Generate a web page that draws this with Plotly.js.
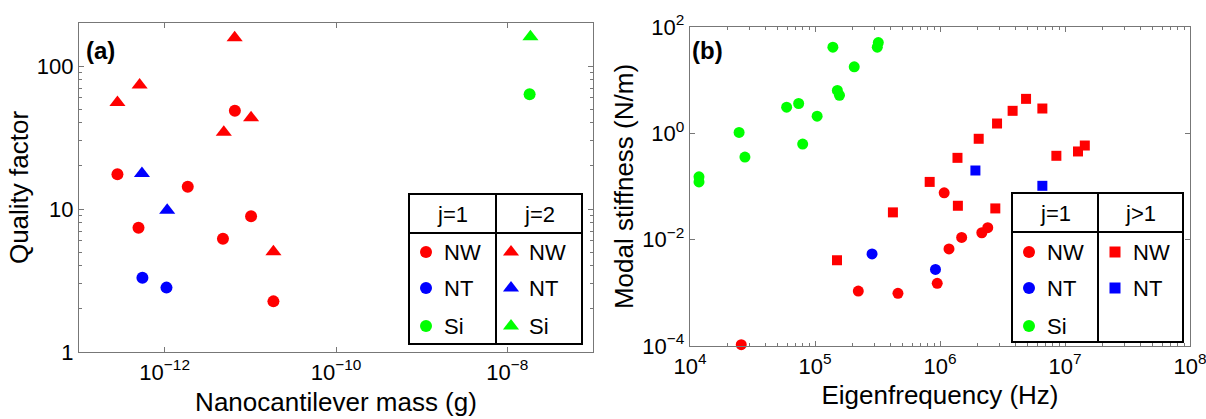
<!DOCTYPE html>
<html>
<head>
<meta charset="utf-8">
<script src="https://cdn.plot.ly/plotly-3.0.1.min.js"></script>
<style>html,body{margin:0;padding:0;background:#fff;}#chart{width:1206px;height:419px;}</style>
</head>
<body>
<div id="chart"></div>
<script>
// ---------- Panel (a): quality factor vs nanocantilever mass ----------
const aNW1_mass = [2.81e-13, 4.95e-13, 1.86e-12, 4.79e-12, 6.6e-12, 1.02e-11, 1.86e-11];
const aNW1_Q    = [17.5, 7.4, 14.3, 6.2, 48.7, 8.9, 2.26];
const aNT1_mass = [5.5e-13, 1.05e-12];
const aNT1_Q    = [3.3, 2.82];
const aSi1_mass = [1.82e-8];
const aSi1_Q    = [63.4];
const aNW2_mass = [2.81e-13, 5.1e-13, 6.56e-12, 4.9e-12, 1.02e-11, 1.86e-11];
const aNW2_Q    = [55.5, 73.7, 158, 34.4, 43.5, 5.03];
const aNT2_mass = [5.43e-13, 1.07e-12];
const aNT2_Q    = [17.7, 9.8];
const aSi2_mass = [1.86e-8];
const aSi2_Q    = [160];

// ---------- Panel (b): modal stiffness vs eigenfrequency ----------
const bSi1_f = [1.18e4, 1.18e4, 2.47e4, 2.75e4, 5.93e4, 7.4e4, 7.97e4, 1.04e5, 1.39e5, 1.51e5, 1.57e5, 2.06e5, 3.21e5, 3.15e5];
const bSi1_k = [0.152, 0.122, 1.04, 0.357, 3.1, 3.64, 0.627, 2.1, 41.7, 6.4, 5.2, 17.8, 51, 41.7];
const bNW1_f = [2.57e4, 2.22e5, 4.61e5, 9.5e5, 1.08e6, 1.18e6, 1.49e6, 2.16e6, 2.41e6];
const bNW1_k = [1.06e-4, 1.08e-3, 9.8e-4, 1.51e-3, 0.076, 6.7e-3, 0.011, 0.0135, 0.0168];
const bNT1_f = [2.86e5, 9.2e5];
const bNT1_k = [5.4e-3, 2.76e-3];
const bNWh_f = [1.5e5, 4.2e5, 8.27e5, 1.38e6, 1.39e6, 2.04e6, 2.86e6, 2.77e6, 3.81e6, 4.88e6, 6.59e6, 8.53e6, 1.27e7, 1.44e7];
const bNWh_k = [4.1e-3, 0.0326, 0.122, 0.346, 0.0434, 0.79, 1.53, 0.0387, 2.65, 4.45, 2.93, 0.378, 0.456, 0.59];
const bNTh_f = [1.92e6, 6.59e6];
const bNTh_k = [0.2, 0.103];

// tick labels
const aXticks = [1e-12, 1e-10, 1e-8];
const aXtext  = ['10<sup>\u221212</sup>', '10<sup>\u221210</sup>', '10<sup>\u22128</sup>'];
const aYticks = [1, 10, 100];
const aYtext  = ['1', '10', '100'];
const bXticks = [1e4, 1e5, 1e6, 1e7, 1e8];
const bXtext  = ['10<sup>4</sup>', '10<sup>5</sup>', '10<sup>6</sup>', '10<sup>7</sup>', '10<sup>8</sup>'];
const bYticks = [1e-4, 1e-2, 1, 1e2];
const bYtext  = ['10<sup>\u22124</sup>', '10<sup>\u22122</sup>', '10<sup>0</sup>', '10<sup>2</sup>'];

const legendRows = ['NW', 'NT', 'Si'];

// ---------- styling ----------
const RED = '#ff0000', BLUE = '#0000ff', GREEN = '#00ff00';
const FONT = 'Liberation Sans, Arial, Helvetica, sans-serif';
const W = 1206, H = 419;

function minorVals(e0, e1) {
  const v = [];
  for (let e = e0; e < e1; e++) for (let m = 2; m <= 9; m++) v.push(m * Math.pow(10, e));
  return v;
}

function pts(x, y, xa, ya, color, symbol, size) {
  return {x: x, y: y, xaxis: xa, yaxis: ya, type: 'scatter', mode: 'markers',
          marker: {color: color, symbol: symbol, size: size, line: {width: 0}},
          showlegend: false, hoverinfo: 'x+y', cliponaxis: false};
}

const traces = [
  pts(aNW1_mass, aNW1_Q, 'x', 'y', RED, 'circle', 12),
  pts(aNT1_mass, aNT1_Q, 'x', 'y', BLUE, 'circle', 12),
  pts(aSi1_mass, aSi1_Q, 'x', 'y', GREEN, 'circle', 12),
  pts(aNW2_mass, aNW2_Q, 'x', 'y', RED, 'triangle-up', 14),
  pts(aNT2_mass, aNT2_Q, 'x', 'y', BLUE, 'triangle-up', 14),
  pts(aSi2_mass, aSi2_Q, 'x', 'y', GREEN, 'triangle-up', 14),
  pts(bSi1_f, bSi1_k, 'x2', 'y2', GREEN, 'circle', 11),
  pts(bNW1_f, bNW1_k, 'x2', 'y2', RED, 'circle', 11),
  pts(bNT1_f, bNT1_k, 'x2', 'y2', BLUE, 'circle', 11),
  pts(bNWh_f, bNWh_k, 'x2', 'y2', RED, 'square', 10),
  pts(bNTh_f, bNTh_k, 'x2', 'y2', BLUE, 'square', 10)
];

// legend tables drawn on a pixel-unit overlay axis (x3/y3)
const rowY = [252, 288, 326];
const colors = [RED, BLUE, GREEN];
function legendMarkers(xpos, n, symbol, size) {
  const xs = [], ys = [], cs = [];
  for (let i = 0; i < n; i++) { xs.push(xpos); ys.push(rowY[i]); cs.push(colors[i]); }
  return {x: xs, y: ys, xaxis: 'x3', yaxis: 'y3', type: 'scatter', mode: 'markers',
          marker: {color: cs, symbol: symbol, size: size}, showlegend: false,
          hoverinfo: 'skip', cliponaxis: false};
}
traces.push(legendMarkers(426, 3, 'circle', 12));
traces.push(legendMarkers(511, 3, 'triangle-up', 14));
traces.push(legendMarkers(1029, 3, 'circle', 12));
traces.push(legendMarkers(1115, 2, 'square', 11));

const shapes = [];
function table(x0, x1, xm, y0, y1, ym) {
  const ln = {color: '#000', width: 2};
  shapes.push({type: 'rect', xref: 'x3', yref: 'y3', x0: x0, x1: x1, y0: y0, y1: y1, line: ln, fillcolor: 'rgba(255,255,255,0)', layer: 'above'});
  shapes.push({type: 'line', xref: 'x3', yref: 'y3', x0: x0, x1: x1, y0: ym, y1: ym, line: ln, layer: 'above'});
  shapes.push({type: 'line', xref: 'x3', yref: 'y3', x0: xm, x1: xm, y0: y0, y1: y1, line: ln, layer: 'above'});
}
table(409, 582, 496, 194, 344, 233);
table(1012, 1183, 1098, 193, 342, 232);

const annotations = [];
function txt(x, y, s, anchor, size, bold) {
  annotations.push({xref: 'x3', yref: 'y3', x: x, y: y, text: bold ? '<b>' + s + '</b>' : s,
    showarrow: false, xanchor: anchor, yanchor: 'middle',
    font: {family: FONT, size: size, color: '#000'}});
}
txt(452, 214, 'j=1', 'center', 22);
txt(539, 214, 'j=2', 'center', 22);
txt(1055, 213, 'j=1', 'center', 22);
txt(1140, 213, 'j>1', 'center', 22);
for (let i = 0; i < 3; i++) {
  txt(442, rowY[i], legendRows[i], 'left', 22);
  txt(527, rowY[i], legendRows[i], 'left', 22);
  txt(1045, rowY[i], legendRows[i], 'left', 22);
  if (i < 2) txt(1131, rowY[i], legendRows[i], 'left', 22);
}
txt(84, 50, '(a)', 'left', 24, true);
txt(690, 50, '(b)', 'left', 24, true);

const LINE = '#777';
function axis(extra) {
  return Object.assign({
    type: 'log', showline: true, linecolor: LINE, linewidth: 1.2, mirror: 'ticks',
    ticks: 'inside', ticklen: 5, tickwidth: 1, tickcolor: LINE,
    showgrid: false, zeroline: false, tickmode: 'array', ticklabeloverflow: 'allow',
    tickfont: {family: FONT, size: 22, color: '#000'}, fixedrange: true
  }, extra);
}
const titleFont = {family: FONT, size: 26, color: '#000'};

const layout = {
  width: W, height: H,
  margin: {l: 0, r: 0, t: 0, b: 0},
  paper_bgcolor: '#fff', plot_bgcolor: 'rgba(0,0,0,0)',
  font: {family: FONT, color: '#000'},
  showlegend: false,
  xaxis: axis({domain: [79 / W, 593 / W], range: [-13, -7], anchor: 'y',
    tickvals: aXticks, ticktext: aXtext,
    title: {text: 'Nanocantilever mass (g)', font: titleFont, standoff: 9}}),
  yaxis: axis({domain: [1 - 352 / H, 1 - 23 / H], range: [0, Math.log10(200)], anchor: 'x',
    tickvals: aYticks, ticktext: aYtext,
    minor: {tickvals: minorVals(0, 3), ticks: 'inside', ticklen: 3, tickcolor: LINE},
    title: {text: 'Quality factor', font: titleFont, standoff: 0}}),
  xaxis2: axis({domain: [690 / W, 1190 / W], range: [4, 8], anchor: 'y2',
    tickvals: bXticks, ticktext: bXtext,
    minor: {tickvals: minorVals(4, 8), ticks: 'inside', ticklen: 3, tickcolor: LINE},
    title: {text: 'Eigenfrequency (Hz)', font: titleFont, standoff: 8}}),
  yaxis2: axis({domain: [1 - 346 / H, 1 - 27 / H], range: [-4, 2], anchor: 'x2',
    tickvals: bYticks, ticktext: bYtext,
    title: {text: 'Modal stiffness (N/m)', font: titleFont, standoff: 1}}),
  xaxis3: {domain: [0, 1], range: [0, W], anchor: 'y3', visible: false, fixedrange: true},
  yaxis3: {domain: [0, 1], range: [H, 0], anchor: 'x3', visible: false, fixedrange: true},
  shapes: shapes,
  annotations: annotations
};

Plotly.newPlot('chart', traces, layout, {displayModeBar: false, staticPlot: true});
</script>
</body>
</html>
